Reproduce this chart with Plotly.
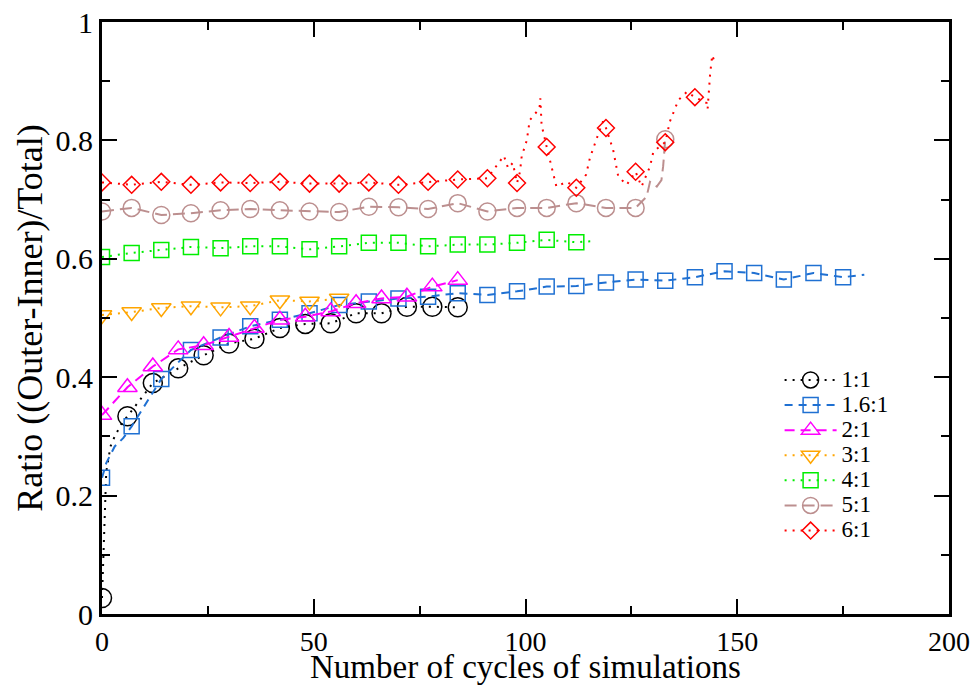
import plotly.graph_objects as go

# ---- data ----
# markers (every 6 or 7 cycles) and the finer line through them
x_11 = [0, 6, 12, 18, 24, 30, 36, 42, 48, 54, 60, 66, 72, 78, 84]
y_11 = [0.027, 0.334, 0.390, 0.415, 0.437, 0.457, 0.465, 0.483, 0.490, 0.491,
        0.508, 0.508, 0.519, 0.519, 0.518]
lx_11 = [0, 0.5, 1, 2, 3, 4.5] + x_11[1:]
ly_11 = [0.027, 0.15, 0.24, 0.283, 0.300, 0.320] + y_11[1:]

x_16 = [0, 7, 14, 21, 28, 35, 42, 49, 56, 63, 70, 77, 84, 91, 98, 105, 112,
        119, 126, 133, 140, 147, 154, 161, 168, 175]
y_16 = [0.230, 0.317, 0.397, 0.446, 0.467, 0.486, 0.497, 0.508, 0.522, 0.528,
        0.533, 0.536, 0.542, 0.539, 0.545, 0.553, 0.554, 0.560, 0.565, 0.563,
        0.569, 0.579, 0.576, 0.565, 0.576, 0.569]
lx_16 = [0, 1, 3, 5] + x_16[1:] + [180]
ly_16 = [0.230, 0.255, 0.283, 0.297] + y_16[1:] + [0.573]

x_21 = [0, 6, 12, 18, 24, 30, 36, 42, 48, 54, 60, 66, 72, 78, 84]
y_21 = [0.336, 0.383, 0.418, 0.447, 0.454, 0.468, 0.483, 0.497, 0.502, 0.511,
        0.525, 0.533, 0.536, 0.553, 0.564]

x_31 = [0, 7, 14, 21, 28, 35, 42, 49, 56]
y_31 = [0.505, 0.510, 0.517, 0.520, 0.518, 0.520, 0.530, 0.528, 0.533]

x_41 = [0, 7, 14, 21, 28, 35, 42, 49, 56, 63, 70, 77, 84, 91, 98, 105, 112]
y_41 = [0.603, 0.610, 0.615, 0.620, 0.618, 0.621, 0.621, 0.616, 0.621, 0.627,
        0.627, 0.621, 0.624, 0.624, 0.627, 0.632, 0.628]
lx_41 = x_41 + [116]
ly_41 = y_41 + [0.630]

x_51 = [0, 7, 14, 21, 28, 35, 42, 49, 56, 63, 70, 77, 84, 91, 98, 105, 112,
        119, 126, 133]
y_51 = [0.680, 0.686, 0.674, 0.677, 0.682, 0.684, 0.682, 0.680, 0.679, 0.688,
        0.687, 0.684, 0.694, 0.680, 0.686, 0.686, 0.694, 0.686, 0.686, 0.802]
lx_51 = x_51[:-1] + [128.6, 129.4, 131, 132.1, 132.5, 133]
ly_51 = y_51[:-1] + [0.705, 0.730, 0.722, 0.733, 0.756, 0.802]

x_61 = [0, 7, 14, 21, 28, 35, 42, 49, 56, 63, 70, 77, 84, 91, 98, 105, 112,
        119, 126, 133, 140]
y_61 = [0.729, 0.725, 0.730, 0.725, 0.729, 0.728, 0.730, 0.727, 0.727, 0.729,
        0.725, 0.730, 0.734, 0.736, 0.728, 0.789, 0.720, 0.821, 0.747, 0.797,
        0.873]
lx_61 = x_61[:14] + [92.8, 94.9, 95.9, 97, 98, 98.7, 99.1, 100.3, 101, 103.3,
                     103.5, 103.8, 105, 106.2, 107.3, 109.7, 112, 114.3, 115.2,
                     116.8, 118.3, 119, 120.7, 121.9, 123.9, 126, 127.4, 129.4,
                     130.2, 133, 134.1, 136.1, 138.1, 140, 142.8, 143, 143.6,
                     144.1, 144.8]
ly_61 = y_61[:14] + [0.753, 0.774, 0.753, 0.762, 0.728, 0.747, 0.773, 0.800,
                     0.834, 0.854, 0.871, 0.826, 0.789, 0.753, 0.722, 0.730,
                     0.720, 0.742, 0.770, 0.803, 0.832, 0.821, 0.784, 0.739,
                     0.725, 0.747, 0.722, 0.756, 0.781, 0.797, 0.832, 0.868,
                     0.882, 0.873, 0.863, 0.853, 0.913, 0.944, 0.929]

series = [
    # name, line x, line y, marker x, marker y, color, dash, symbol, size
    ("1:1", lx_11, ly_11, x_11, y_11, "black", "2px,6px", "circle-open", 19),
    ("1.6:1", lx_16, ly_16, x_16, y_16, "#1f70d2", "8px,6px", "square-open", 15),
    ("2:1", x_21, y_21, x_21, y_21, "#ff00ff", "10px,6px", "triangle-up-open", 17),
    ("3:1", x_31, y_31, x_31, y_31, "#ffa500", "2px,6px", "triangle-down-open", 17),
    ("4:1", lx_41, ly_41, x_41, y_41, "#00ee00", "2px,6px", "square-open", 15),
    ("5:1", lx_51, ly_51, x_51, y_51, "#bc8f8f", "12px,6px", "circle-open", 17),
    ("6:1", lx_61, ly_61, x_61, y_61, "#ff0000", "2px,6px", "diamond-open", 13),
]

fig = go.Figure()
for name, lx, ly, mx, my, col, dash, sym, sz in series:
    fig.add_trace(go.Scatter(x=lx, y=ly, mode='lines', showlegend=False,
                             line=dict(color=col, width=2, dash=dash),
                             hoverinfo='skip'))
    fig.add_trace(go.Scatter(x=mx, y=my, mode='markers', showlegend=False,
                             marker=dict(symbol=sym, size=sz, color=col,
                                         line=dict(color=col, width=1.5))))
    # legend entry only (bigger text, tight rows)
    fig.add_trace(go.Scatter(x=[None], y=[None], mode='lines+markers',
                             name='<span style="font-size:23px">%s</span>' % name,
                             line=dict(color=col, width=2, dash=dash),
                             marker=dict(symbol=sym, size=sz, color=col,
                                         line=dict(color=col, width=1.5))))

font = "Liberation Serif, Times New Roman, serif"
fig.update_layout(
    width=976, height=686,
    margin=dict(l=102, r=27, t=22, b=72),
    paper_bgcolor='white', plot_bgcolor='white',
    font=dict(family=font, size=28, color='black'),
    showlegend=True,
    legend=dict(x=0.80, y=0.425, xanchor='left', yanchor='top',
                bgcolor='rgba(0,0,0,0)', font=dict(family=font, size=17),
                tracegroupgap=0, itemwidth=52),
    annotations=[dict(text='Number of cycles of simulations', xref='paper',
                      yref='paper', x=0.5, y=-0.1216, xanchor='center',
                      yanchor='bottom', showarrow=False, borderpad=0,
                      font=dict(size=33))],
)
fig.update_xaxes(range=[0, 200], tickvals=[0, 50, 100, 150, 200],
                 ticks='inside', ticklen=15, tickwidth=2, tickcolor='black',
                 minor=dict(tickvals=[25, 75, 125, 175], ticks='inside',
                            ticklen=8, tickwidth=2, tickcolor='black'),
                 showline=True, linewidth=3, linecolor='black', mirror='allticks',
                 showgrid=False, zeroline=False, automargin=False,
                 tickfont=dict(size=28))
fig.update_yaxes(range=[0, 1], tickvals=[0, 0.2, 0.4, 0.6, 0.8, 1],
                 ticktext=['0', '0.2', '0.4', '0.6', '0.8', '1'],
                 ticks='inside', ticklen=15, tickwidth=2, tickcolor='black',
                 minor=dict(tickvals=[0.1, 0.3, 0.5, 0.7, 0.9], ticks='inside',
                            ticklen=8, tickwidth=2, tickcolor='black'),
                 showline=True, linewidth=3, linecolor='black', mirror='allticks',
                 showgrid=False, zeroline=False, automargin=False,
                 title=dict(text='Ratio ((Outer-Inner)/Total)',
                            font=dict(size=36), standoff=2),
                 tickfont=dict(size=30))

# the page body has a default 8px margin; drop it so the figure sits at 0,0
fig.write_html("out.html", config={'displayModeBar': False},
               post_script="document.body.style.margin='0';")
